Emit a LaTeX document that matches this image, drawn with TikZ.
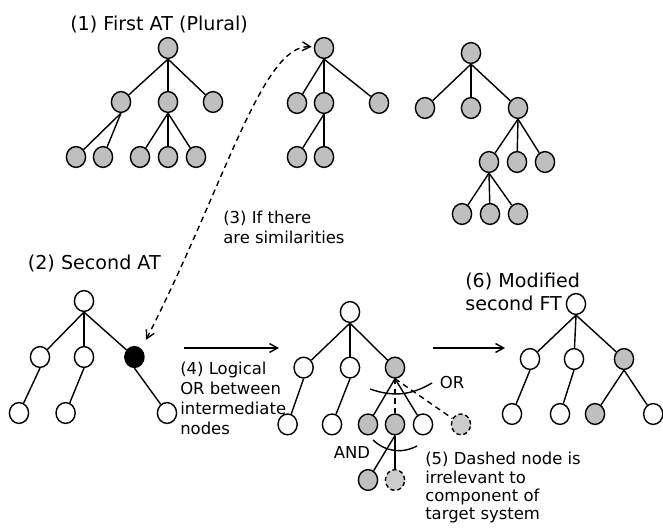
\documentclass[tikz,border=0pt]{standalone}
\usepackage{fontspec}
\setmainfont{DejaVu Sans}
\usetikzlibrary{shapes,shapes.geometric,arrows,arrows.meta,positioning,calc}

\begin{document}
\begin{tikzpicture}[
    gnode/.style={ellipse, draw, fill=gray!50, minimum width=0.48cm, minimum height=0.52cm, inner sep=0pt, line width=1pt},
    wnode/.style={gnode, fill=white},
    bnode/.style={gnode, fill=black},
    dnode/.style={gnode, fill=gray!40, dash pattern=on 3pt off 2pt},
    edge/.style={line width=1pt},
    dline/.style={edge, dash pattern=on 4pt off 3pt},
    arrow/.style={->, >={Straight Barb[length=0.2cm, width=0.22cm]}, line width=1pt},
    note/.style={align=left, inner sep=0pt, font=\fontsize{11.7}{14.2}\selectfont},
    title/.style={align=left, inner sep=0pt, font=\fontsize{13.6}{16.7}\selectfont}
]
\useasboundingbox (0,0) rectangle (16.575,-13.225);

% Labels
\node[title, anchor=west] (t1) at (1.75,-0.6) {(1) First AT (Plural)};
\node[title, anchor=west] (t2) at (0.69,-6.575) {(2) Second AT};
\node[note, anchor=west] (t3) at (5.575,-5.675) {(3) If there\\are similarities};
\node[note, anchor=west] (t4) at (4.5,-9.95) {(4) Logical\\OR between\\intermediate\\nodes};
\node[note, anchor=north west, font=\fontsize{11.7}{13}\selectfont] (t5) at (10.625,-11.3) {(5) Dashed node is\\irrelevant to\\component of\\target system};
\node[title, anchor=west] (t6) at (11.625,-7.3) {(6) Modified\\second FT};
\node[note] (orlbl) at (11.3,-9.575) {OR};
\node[note] (andlbl) at (8.8,-11.3) {AND};

% First AT (plural)
\node[gnode] (a0) at (4.2,-1.2) {};
\node[gnode] (a1) at (3.025,-2.55) {};
\node[gnode] (a2) at (4.2,-2.55) {};
\node[gnode] (a3) at (5.325,-2.55) {};
\node[gnode] (a11) at (1.9,-3.925) {};
\node[gnode] (a12) at (2.575,-3.925) {};
\node[gnode] (a21) at (3.5,-3.925) {};
\node[gnode] (a22) at (4.2,-3.925) {};
\node[gnode] (a23) at (4.9,-3.925) {};

\node[gnode] (b0) at (8.1,-1.2) {};
\node[gnode] (b1) at (7.425,-2.575) {};
\node[gnode] (b2) at (8.1,-2.575) {};
\node[gnode] (b3) at (9.475,-2.575) {};
\node[gnode] (b21) at (7.425,-3.925) {};
\node[gnode] (b22) at (8.1,-3.925) {};

\node[gnode] (c0) at (11.775,-1.325) {};
\node[gnode] (c1) at (10.625,-2.7) {};
\node[gnode] (c2) at (11.775,-2.7) {};
\node[gnode] (c3) at (12.95,-2.7) {};
\node[gnode] (c31) at (12.225,-4.05) {};
\node[gnode] (c32) at (12.925,-4.05) {};
\node[gnode] (c33) at (13.625,-4.05) {};
\node[gnode] (c311) at (11.55,-5.35) {};
\node[gnode] (c312) at (12.25,-5.35) {};
\node[gnode] (c313) at (12.95,-5.35) {};

% Second AT
\node[wnode] (d0) at (2.1,-7.525) {};
\node[wnode] (d1) at (1.0,-8.925) {};
\node[wnode] (d2) at (2.1,-8.925) {};
\node[bnode] (d3) at (3.36,-8.925) {};
\node[wnode] (d11) at (0.475,-10.325) {};
\node[wnode] (d21) at (1.64,-10.325) {};
\node[wnode] (d31) at (4.175,-10.325) {};

% Logical OR tree
\node[wnode] (e0) at (8.75,-7.8) {};
\node[wnode] (e1) at (7.59,-9.19) {};
\node[wnode] (e2) at (8.75,-9.19) {};
\node[gnode] (e3) at (9.875,-9.19) {};
\node[wnode] (e11) at (7.19,-10.61) {};
\node[wnode] (e21) at (8.3,-10.61) {};
\node[gnode] (e31) at (9.2,-10.61) {};
\node[gnode] (e32) at (9.875,-10.61) {};
\node[wnode] (e33) at (10.575,-10.61) {};
\node[dnode] (e34) at (11.525,-10.61) {};
\node[gnode] (e321) at (9.2,-12.0) {};
\node[dnode] (e322) at (9.875,-12.0) {};

% Modified second FT
\node[wnode] (f0) at (14.4,-7.6) {};
\node[wnode] (f1) at (13.25,-8.975) {};
\node[wnode] (f2) at (14.35,-8.975) {};
\node[gnode] (f3) at (15.6,-8.975) {};
\node[wnode] (f11) at (12.8,-10.35) {};
\node[wnode] (f21) at (14.0,-10.35) {};
\node[gnode] (f31) at (14.875,-10.35) {};
\node[wnode] (f32) at (16.33,-10.35) {};

% Edges
\foreach \p/\c in {a0/a1,a0/a2,a0/a3,a1/a11,a1/a12,a2/a21,a2/a22,a2/a23,
                   b0/b1,b0/b2,b0/b3,b2/b21,b2/b22,
                   c0/c1,c0/c2,c0/c3,c3/c31,c3/c32,c3/c33,c31/c311,c31/c312,c31/c313,
                   d0/d1,d0/d2,d0/d3,d1/d11,d2/d21,d3/d31,
                   e0/e1,e0/e2,e0/e3,e1/e11,e2/e21,e3/e31,e3/e33,e32/e321,e32/e322,
                   f0/f1,f0/f2,f0/f3,f1/f11,f2/f21,f3/f31,f3/f32}
    \draw[edge] (\p.south) -- (\c);
\draw[dline] (e3.south) -- (e32);
\draw[dline] (e3.south) -- (e34);

% OR / AND arcs
\coordinate (orL) at (9.25,-9.725);
\coordinate (orR) at (10.8,-9.575);
\coordinate (andL) at (9.325,-11.0);
\coordinate (andR) at (10.425,-11.15);
\draw[edge] (orL) to[bend right=25] (orR);
\draw[edge] (andL) to[bend right=35] (andR);

% Arrows
\coordinate (s1) at (4.6,-8.7);
\coordinate (e1end) at (6.975,-8.7);
\coordinate (s2) at (10.825,-8.7);
\coordinate (e2end) at (12.625,-8.7);
\draw[arrow] (s1) -- (e1end);
\draw[arrow] (s2) -- (e2end);
\draw[arrow, <->, dline] ($(d3)+(0.29,0.43)$) .. controls (5.625,-4.625) and (6.55,-1.1) .. ($(b0.west)+(-0.05,0.03)$);

\end{tikzpicture}
\end{document}
